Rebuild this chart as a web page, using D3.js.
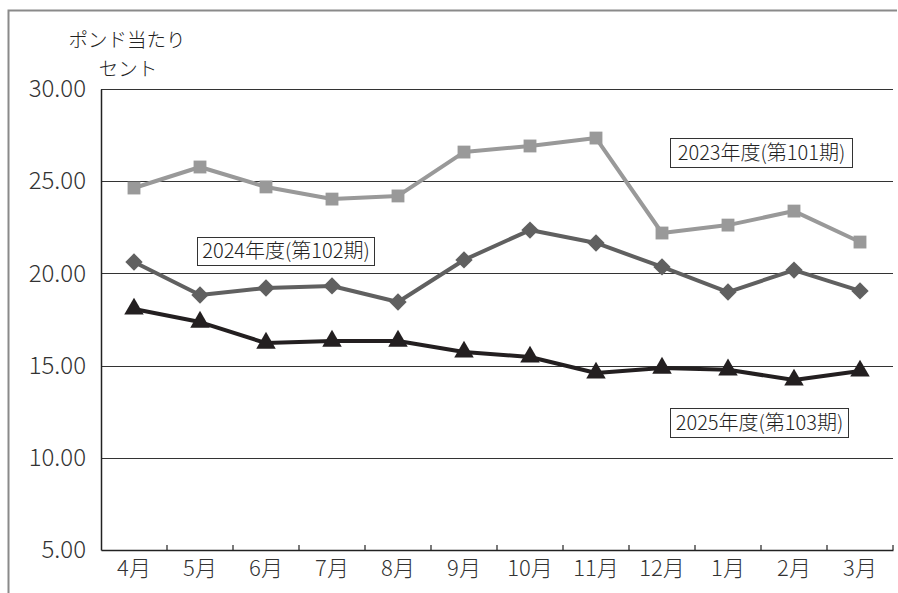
<!DOCTYPE html>
<html>
<head>
<meta charset="utf-8">
<script src="https://d3js.org/d3.v7.min.js"></script>
<style>
  body { margin: 0; background: #fff; }
  text { font-family: "Noto Sans CJK JP", "Noto Sans", sans-serif; font-weight: 300; }
</style>
</head>
<body>
<div id="chart"></div>
<script>
// months (fiscal year starts in April)
var months = ["4月", "5月", "6月", "7月", "8月", "9月", "10月", "11月", "12月", "1月", "2月", "3月"];
var yTicks = [5, 10, 15, 20, 25, 30];

// cents per pound
var fy2023 = [24.63, 25.77, 24.69, 24.03, 24.20, 26.58, 26.91, 27.34, 22.19, 22.62, 23.38, 21.70];
var fy2024 = [20.62, 18.83, 19.21, 19.32, 18.45, 20.73, 22.35, 21.65, 20.35, 18.99, 20.18, 19.05];
var fy2025 = [18.07, 17.36, 16.22, 16.33, 16.33, 15.74, 15.47, 14.60, 14.87, 14.77, 14.22, 14.71];

var seriesNames = ["2023年度(第101期)", "2024年度(第102期)", "2025年度(第103期)"];

var W = 898, H = 593;
var margin = {top: 89, right: 5, bottom: 43, left: 101};
var width = W - margin.left - margin.right,
    height = H - margin.top - margin.bottom;

var svg = d3.select("#chart").append("svg")
    .attr("width", W)
    .attr("height", H);

// outer frame (left + top only)
svg.append("path")
    .attr("d", "M8.5," + H + "V10.5H897")
    .attr("fill", "none")
    .attr("stroke", "#8a8a8a")
    .attr("stroke-width", 2);

var g = svg.append("g")
    .attr("transform", "translate(" + margin.left + "," + margin.top + ")");

var x = d3.scaleBand().domain(months).range([0, width]);
var y = d3.scaleLinear().domain([5, 30]).range([height, 0]);

// gridlines
g.selectAll(".grid")
    .data(yTicks.slice(1))
    .enter().append("line")
    .attr("x1", 0).attr("x2", width)
    .attr("y1", function(d) { return Math.round(y(d)) + 0.5; })
    .attr("y2", function(d) { return Math.round(y(d)) + 0.5; })
    .attr("stroke", "#333")
    .attr("stroke-width", 1);

// y axis
var yAxis = g.append("g")
    .call(d3.axisLeft(y).tickValues(yTicks).tickSize(0).tickPadding(15)
        .tickFormat(d3.format(".2f")));
yAxis.select(".domain").attr("stroke", "#222").attr("stroke-width", 1.5);
yAxis.selectAll("text")
    .attr("font-size", "24px")
    .attr("fill", "#333")
    .attr("font-family", "\"Noto Sans CJK JP\", sans-serif")
    .attr("font-weight", 300);

// x axis with ticks pointing up at band edges
var xAxis = g.append("g")
    .attr("transform", "translate(0," + height + ")")
    .call(d3.axisBottom(x).tickSize(0).tickPadding(10));
xAxis.select(".domain").attr("stroke", "#222").attr("stroke-width", 1.5);
xAxis.selectAll("text")
    .attr("font-size", "22px")
    .attr("fill", "#333")
    .attr("font-family", "\"Noto Sans CJK JP\", sans-serif")
    .attr("font-weight", 300);
xAxis.selectAll(".edge")
    .data(months)
    .enter().append("line")
    .attr("x1", function(d) { return x(d) + x.bandwidth(); })
    .attr("x2", function(d) { return x(d) + x.bandwidth(); })
    .attr("y1", 0).attr("y2", -5)
    .attr("stroke", "#222")
    .attr("stroke-width", 1.2);

// y title, two lines
svg.append("text")
    .attr("x", 127).attr("y", 47)
    .attr("text-anchor", "middle")
    .attr("font-size", "19.5px")
    .attr("fill", "#222")
    .text("ポンド当たり");
svg.append("text")
    .attr("x", 128).attr("y", 76)
    .attr("text-anchor", "middle")
    .attr("font-size", "19.5px")
    .attr("fill", "#222")
    .text("セント");

var line = d3.line()
    .x(function(d, i) { return x(months[i]) + x.bandwidth() / 2; })
    .y(function(d) { return y(d); });

function drawSeries(values, color, symbol, size, rot) {
    g.append("path")
        .datum(values)
        .attr("fill", "none")
        .attr("stroke", color)
        .attr("stroke-width", 4)
        .attr("stroke-linejoin", "round")
        .attr("d", line);
    g.selectAll(null)
        .data(values)
        .enter().append("path")
        .attr("transform", function(d, i) {
            return "translate(" + (x(months[i]) + x.bandwidth() / 2) + "," + y(d) + ") rotate(" + rot + ")";
        })
        .attr("d", d3.symbol().type(symbol).size(size))
        .attr("fill", color);
}

drawSeries(fy2023, "#999999", d3.symbolSquare, 165, 0);
drawSeries(fy2024, "#606060", d3.symbolSquare, 150, 45);
drawSeries(fy2025, "#231f20", d3.symbolTriangle, 165, 0);

// series labels in boxes
var labels = [
    {text: seriesNames[0], x: 670, y: 138, w: 182, h: 29},
    {text: seriesNames[1], x: 197, y: 237, w: 177, h: 28},
    {text: seriesNames[2], x: 670, y: 408, w: 178, h: 29}
];
labels.forEach(function(l) {
    svg.append("rect")
        .attr("x", l.x + 0.5).attr("y", l.y + 0.5)
        .attr("width", l.w).attr("height", l.h)
        .attr("fill", "#fff")
        .attr("stroke", "#333")
        .attr("stroke-width", 1);
    svg.append("text")
        .attr("x", l.x + l.w / 2 + 0.5)
        .attr("y", l.y + l.h / 2 + 7)
        .attr("text-anchor", "middle")
        .attr("font-size", "20px")
        .attr("fill", "#222")
        .text(l.text);
});
</script>
</body>
</html>
